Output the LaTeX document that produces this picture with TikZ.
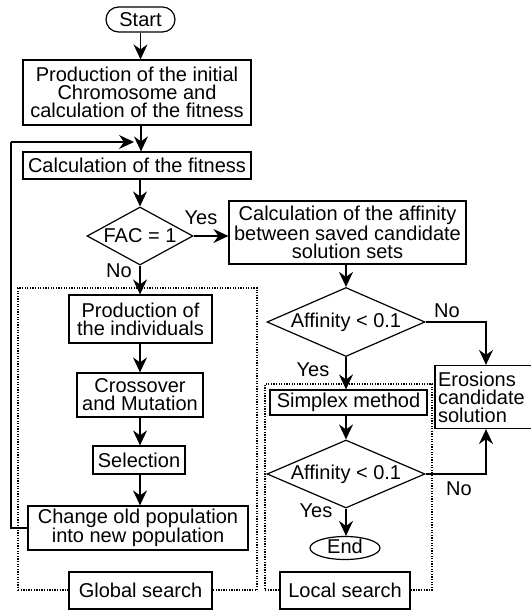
\documentclass[tikz,border=0pt]{standalone}
\usepackage{fontspec}
\setmainfont{Liberation Sans}
\usetikzlibrary{arrows.meta,shapes.geometric}
\tikzset{
  every node/.style={font=\fontsize{20}{18}\selectfont},
  box/.style={draw, line width=1.2pt, rectangle, align=center, inner sep=0pt},
  dia/.style={draw, line width=1.2pt, diamond, inner sep=0pt, align=center},
  dotbox/.style={draw, line width=1.3pt, dash pattern=on 1.3pt off 1.3pt, rectangle, inner sep=0pt},
  lab/.style={inner sep=0pt},
  arr/.style={line width=1.3pt, -{Stealth[length=15pt,width=14pt,inset=5pt]}},
  ln/.style={line width=1.3pt}
}
\begin{document}
\begin{tikzpicture}[x=1pt,y=-1pt]
\useasboundingbox (0,0) rectangle (530,610);
% containers
\node[dotbox, minimum width=239, minimum height=302] (gbox) at (137.5,439) {};
\node[dotbox, minimum width=167, minimum height=206] (lbox) at (348.5,487) {};
% main column
\node[box, rounded corners=12.5pt, minimum width=69, minimum height=25] (start) at (140.5,19.5) {Start};
\node[box, minimum width=228, minimum height=65] (box1) at (137,92.5) {Production of the initial\\Chromosome and\\calculation of the fitness};
\node[box, minimum width=228, minimum height=27] (calc) at (137,165.5) {Calculation of the fitness};
\node[dia, minimum width=106, minimum height=58, aspect=1.83] (fac) at (140,236) {FAC = 1};
\node[box, minimum width=237, minimum height=63] (aff) at (347.5,232.5) {Calculation of the affinity\\between saved candidate\\solution sets};
\node[box, minimum width=143, minimum height=48] (prod) at (140.5,319) {Production of\\the individuals};
\node[box, minimum width=126, minimum height=44] (cross) at (140,395) {Crossover\\and Mutation};
\node[box, minimum width=92, minimum height=28] (sel) at (139,460) {Selection};
\node[box, minimum width=220, minimum height=44] (chg) at (138,528) {Change old population\\into new population};
\node[box, fill=white, minimum width=143, minimum height=37] (glab) at (140.5,590.5) {Global search};
% right column
\node[dia, minimum width=158, minimum height=69, aspect=2.29] (a1) at (346,322) {Affinity < 0.1};
\node[box, align=left, minimum width=98, minimum height=63, text width=92pt] (ero) at (484,397) {Erosions\\candidate\\solution};
\node[box, minimum width=157, minimum height=25] (simp) at (348.5,402.5) {Simplex method};
\node[dia, minimum width=158, minimum height=68, aspect=2.32] (a2) at (346,474) {Affinity < 0.1};
\node[draw, line width=1.2pt, ellipse, inner sep=0pt, text height=12pt, text depth=2pt, minimum width=70, minimum height=23] (end) at (345,548) {End};
\node[box, fill=white, minimum width=130, minimum height=37] (llab) at (345,590.5) {Local search};
% labels
\node[lab] (yes1) at (201,218) {Yes};
\node[lab] (no1) at (119,271) {No};
\node[lab] (no2) at (447,311) {No};
\node[lab] (yes2) at (313,370) {Yes};
\node[lab] (no3) at (459,489) {No};
\node[lab] (yes3) at (316,511) {Yes};
% helper coordinates
\coordinate (fbl) at (11,528);
\coordinate (fbt) at (11,142);
\coordinate (fbe) at (134,142);
\coordinate (rx) at (486,0);
% connectors
\draw[arr] (start.south) -- (start.south |- box1.north);
\draw[arr] ([xshift=4pt]box1.south) -- ([xshift=4pt]calc.north);
\draw[arr] (calc.south -| fac) -- (fac.north);
\draw[arr] (fac.east) -- (fac.east -| aff.west);
\draw[arr] (fac.south) -- (fac.south |- prod.north);
\draw[arr] (prod.south -| fac) -- (cross.north -| fac);
\draw[arr] (cross.south -| fac) -- (sel.north -| fac);
\draw[arr] (sel.south -| fac) -- (chg.north -| fac);
\draw[ln] (chg.west) -- (fbl) -- (fbt);
\draw[arr] (fbt) -- (fbe);
\draw[arr] (aff.south -| a1) -- (a1.north);
\draw[arr] (a1.south) -- (a1.south |- simp.north);
\draw[arr] (simp.south -| a2) -- (a2.north);
\draw[arr] (a2.south) -- (a2.south |- end.north);
\draw[arr] (a1.east) -- (a1.east -| rx) -- (rx |- ero.north);
\draw[arr] (a2.east) -- (a2.east -| rx) -- (rx |- ero.south);
\end{tikzpicture}
\end{document}
